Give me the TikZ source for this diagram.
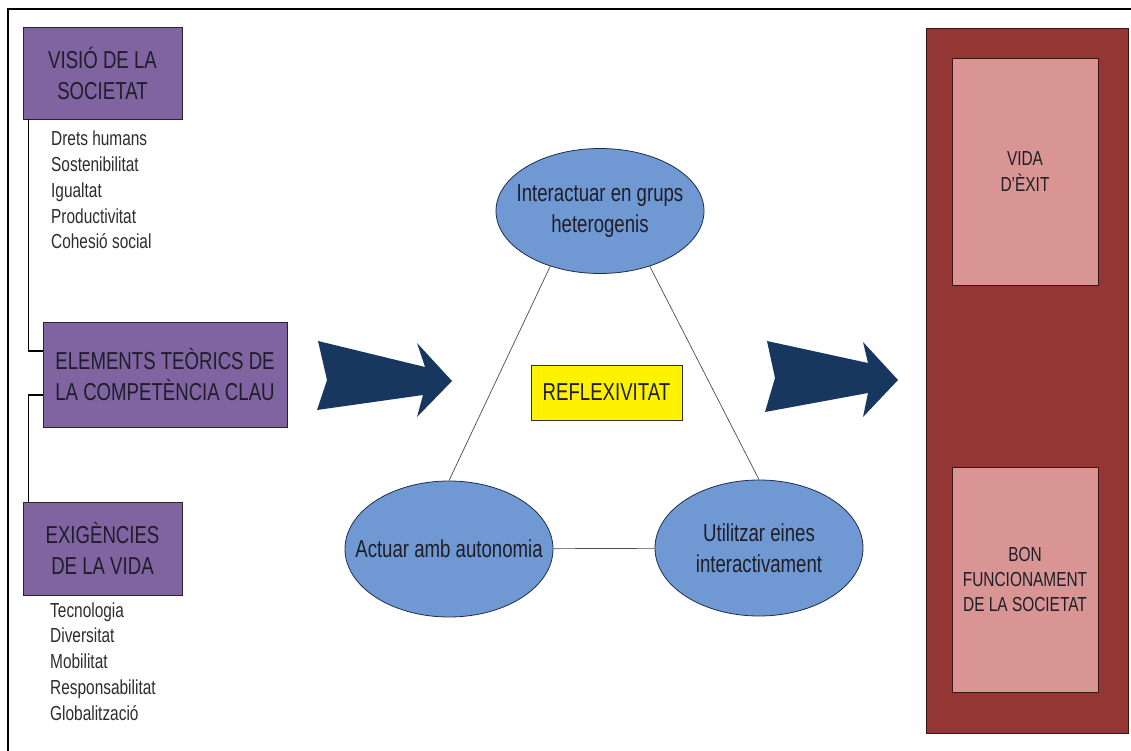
\documentclass[tikz,border=0pt]{standalone}
\usepackage{fontspec}
\setmainfont{Liberation Sans}[FakeStretch=0.76]
\usetikzlibrary{shapes.geometric}

\definecolor{boxpurple}{RGB}{128,100,162}
\definecolor{ovalfill}{RGB}{112,153,212}
\definecolor{ovalline}{RGB}{30,45,75}
\definecolor{arrownavy}{RGB}{23,55,94}
\definecolor{outerred}{RGB}{148,54,52}
\definecolor{innerpink}{RGB}{217,149,148}
\definecolor{redline}{RGB}{60,20,20}
\definecolor{inkdark}{RGB}{30,30,40}
\definecolor{listgray}{RGB}{45,45,45}

\tikzset{
  bigfont/.style={font=\fontsize{24.5}{31}\selectfont},
  smallfont/.style={font=\fontsize{20.3}{25.3}\selectfont},
  purplebox/.style={draw=black!85, line width=0.9pt, fill=boxpurple,
    align=center, inner sep=0pt, bigfont, text=inkdark},
  oval/.style={ellipse, draw=ovalline, line width=0.8pt, fill=ovalfill,
    inner sep=0pt, minimum width=208pt},
  ovaltext/.style={align=center, inner sep=0pt, bigfont, text=inkdark},
  listitem/.style={anchor=base west, inner sep=0pt, smallfont, text=listgray},
  linker/.style={draw=black, line width=1.1pt},
  spoke/.style={draw=black!70, line width=0.7pt},
  blockarrow/.style={fill=arrownavy},
  pinkbox/.style={draw=redline, line width=0.9pt, fill=innerpink,
    align=center, inner sep=0pt, smallfont, text=inkdark}
}

\begin{document}
\begin{tikzpicture}[x=1pt, y=-1pt]
  \useasboundingbox (0,0) rectangle (1131,751);
  \fill[white] (0,0) rectangle (1131,751);

  % page frame (top and left edges)
  \draw[black, line width=1.2pt] (1131,9) -- (8,9) -- (8,751);

  % left column: theoretical elements
  \node[purplebox, minimum width=159pt, minimum height=92pt] (vis) at (102.5,73)
    {VISIÓ DE LA\\SOCIETAT};
  \node[purplebox, minimum width=244pt, minimum height=105pt] (elem) at (165,374.5)
    {ELEMENTS TEÒRICS DE\\LA COMPETÈNCIA CLAU};
  \node[purplebox, minimum width=159pt, minimum height=93pt] (exig) at (102.5,548.5)
    {EXIGÈNCIES\\DE LA VIDA};

  \draw[linker] ([xshift=6pt]vis.south west) |- ([yshift=23.5pt]elem.west);
  \draw[linker] ([yshift=-20.5pt]elem.west) -| ([xshift=6pt]exig.north west);

  \foreach \t [count=\i] in {Drets humans, Sostenibilitat, Igualtat,
      Productivitat, Cohesió social}
    \node[listitem] (soc\i) at (51, {146+25.7*(\i-1)}) {\t};
  \foreach \t [count=\i] in {Tecnologia, Diversitat, Mobilitat,
      Responsabilitat, Globalització}
    \node[listitem] (vida\i) at (50, {617+25.75*(\i-1)}) {\t};

  % block arrows
  \fill[blockarrow] (318,341) -- (425,367) -- (417,343) -- (452,381)
    -- (417,417) -- (423,395) -- (317,410) -- (327,380) -- cycle;
  \fill[blockarrow] (767,341) -- (868,363) -- (863,342) -- (898,380)
    -- (863,417) -- (868,393) -- (765,412) -- (775,378) -- cycle;

  % key competencies triangle
  \node[oval, minimum height=125pt,
        label={[ovaltext]center:Interactuar en grups\\heterogenis}] (inter) at (600,211) {};
  \node[oval, minimum height=136pt,
        label={[ovaltext]center:Actuar amb autonomia}] (auto) at (449,549) {};
  \node[oval, minimum height=136pt,
        label={[ovaltext]center:Utilitzar eines\\interactivament}] (eines) at (759,548) {};

  \draw[spoke] (inter.228) -- (auto.north);
  \draw[spoke] (inter.312) -- (eines.north);
  \draw[spoke] (auto) -- (eines);

  \node[draw=black!80, line width=0.9pt, fill=yellow, bigfont, text=inkdark,
        minimum width=151pt, minimum height=55pt, inner sep=0pt] (refl)
        at (606.5,392.5) {REFLEXIVITAT};

  % outcomes
  \node[draw=redline, line width=0.9pt, fill=outerred,
        minimum width=202pt, minimum height=705pt, inner sep=0pt] (result) at (1027,380.5) {};
  \node[pinkbox, minimum width=146pt, minimum height=227pt] (exit) at (1025,171.5)
    {VIDA\\D'ÈXIT};
  \node[pinkbox, minimum width=146pt, minimum height=225pt] (func) at (1025,579.5)
    {BON\\FUNCIONAMENT\\DE LA SOCIETAT};
\end{tikzpicture}
\end{document}
